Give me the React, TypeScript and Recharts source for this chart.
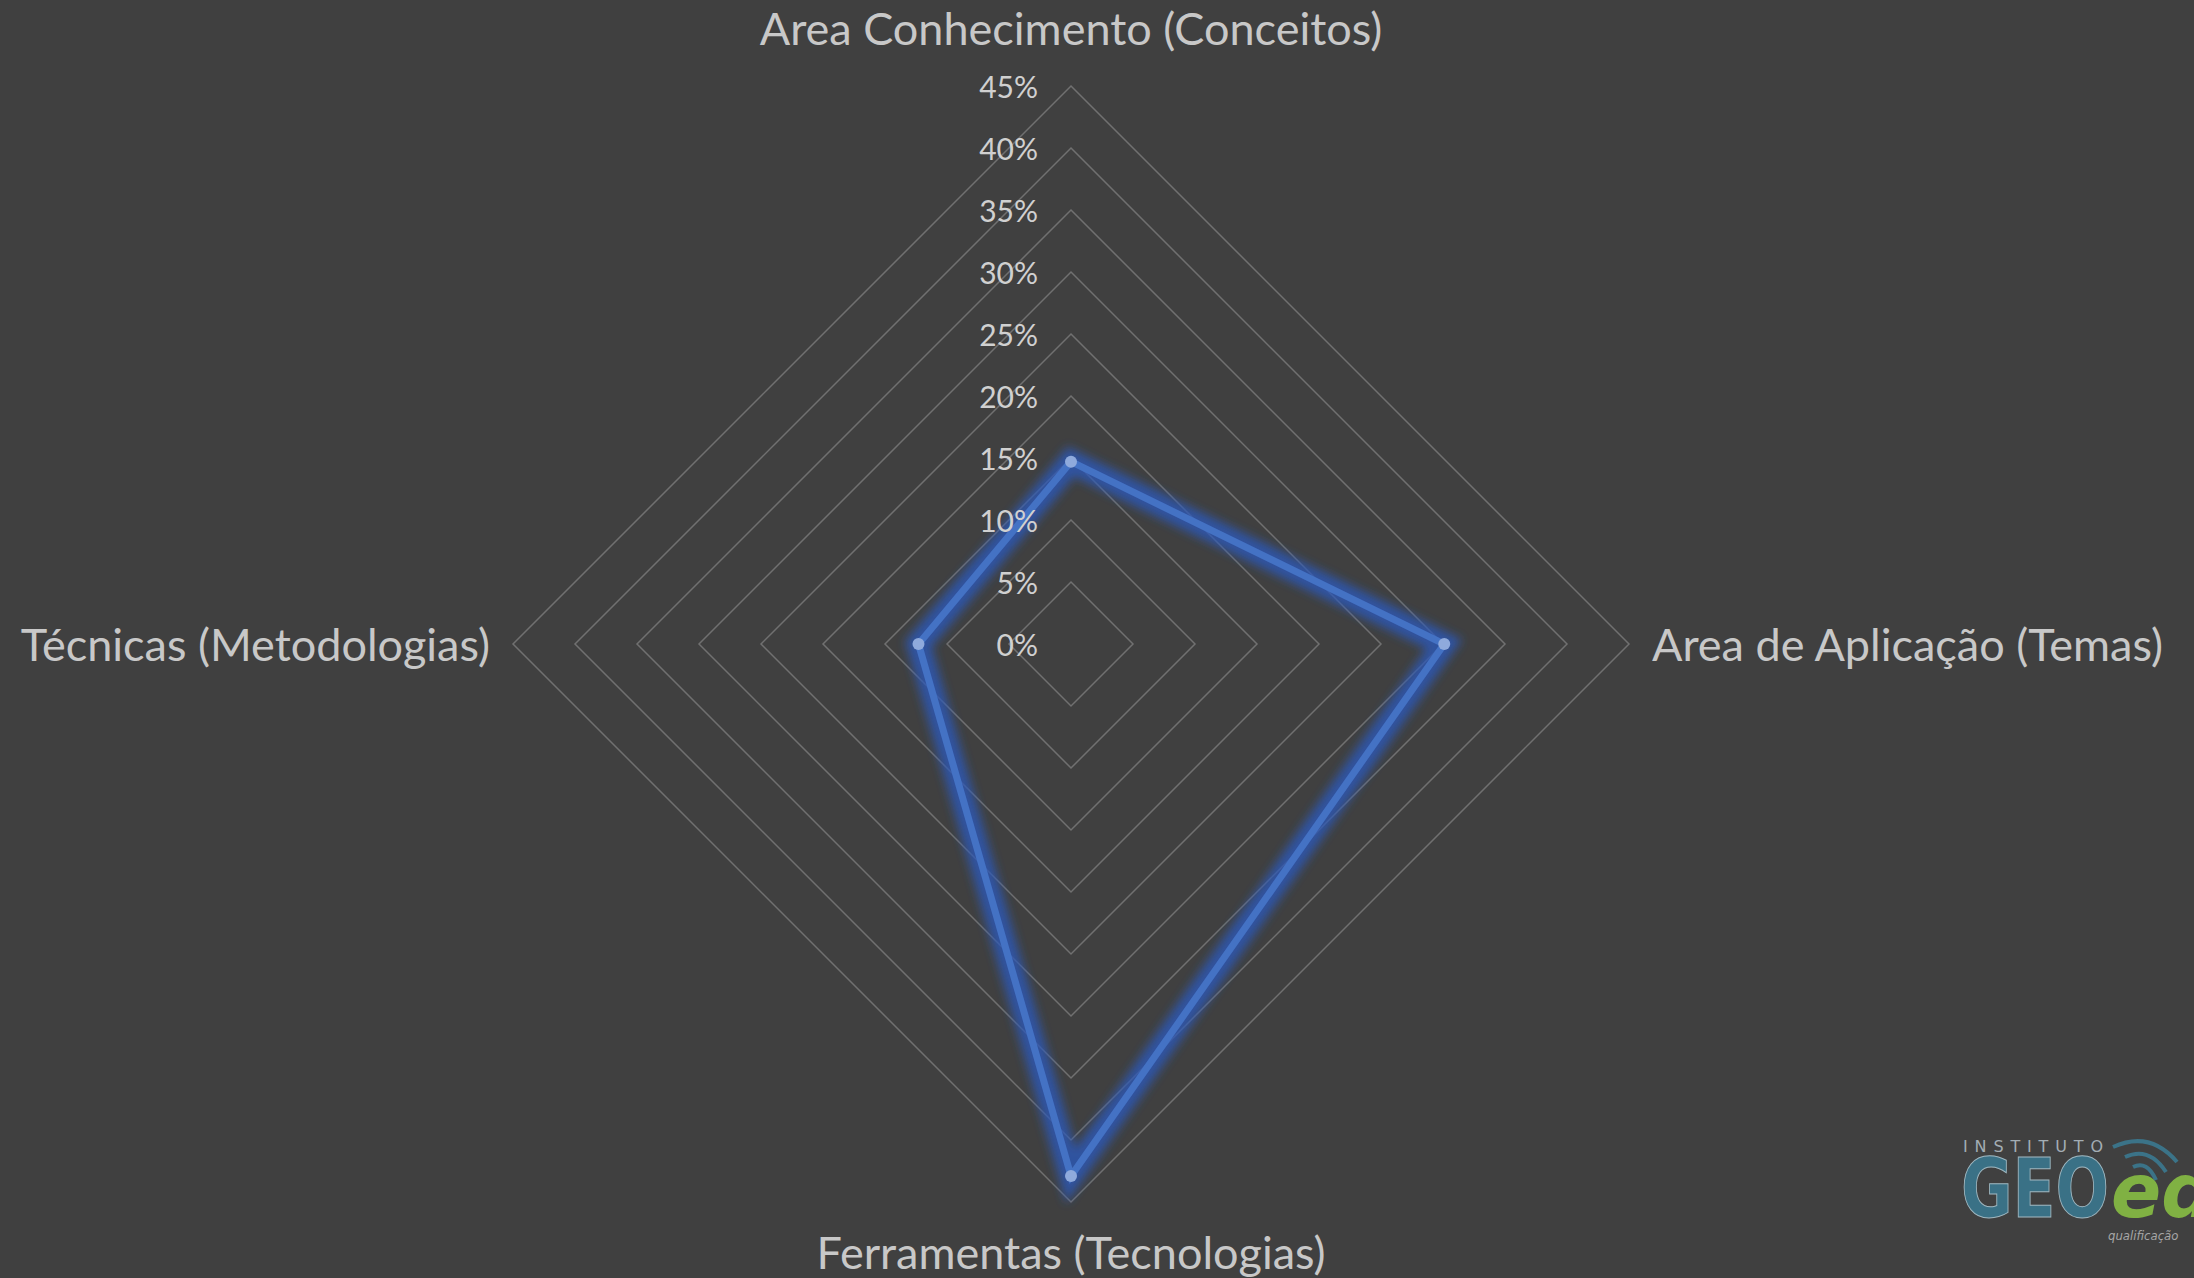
import { PolarAngleAxis, PolarGrid, PolarRadiusAxis, Radar, RadarChart } from "recharts";

const categories = [
  "Area Conhecimento (Conceitos)",
  "Area de Aplicação (Temas)",
  "Ferramentas (Tecnologias)",
  "Técnicas (Metodologias)",
];
const shares = [14.7, 30.1, 42.9, 12.3];
const radiusTicks = [0, 5, 10, 15, 20, 25, 30, 35, 40, 45];

const data = categories.map((category, i) => ({ category, share: shares[i] }));

const W = 2194;
const H = 1278;
const CX = 1071;
const CY = 644;
const R = 558;
const FONT = "Lato, 'Open Sans', sans-serif";

function AngleTick(props: any) {
  const { x, y, payload } = props;
  let tx = x;
  let ty = y;
  let anchor: "start" | "middle" | "end" = "middle";
  if (Math.abs(x - CX) < 2) {
    ty = y < CY ? y - 50 : y + 42;
  } else if (x > CX) {
    tx = x + 15;
    anchor = "start";
  } else {
    tx = x - 15;
    anchor = "end";
  }
  return (
    <text x={tx} y={ty} textAnchor={anchor} dominantBaseline="central"
      fill="#c8c8c8" fontSize={45} fontFamily={FONT}>
      {payload.value}
    </text>
  );
}

function RadiusTick(props: any) {
  const { x, y, payload } = props;
  return (
    <text x={x - 33} y={y} textAnchor="end" dominantBaseline="central"
      fill="#d0d0d0" fontSize={30} fontFamily={FONT}>
      {payload.value}%
    </text>
  );
}

function Logo() {
  return (
    <svg width={250} height={160} style={{ position: "absolute", left: 1944, top: 1118 }}>
      <text x={19} y={34} fontSize={16} fill="#a3adb4" textLength={140} lengthAdjust="spacing"
        fontFamily="'DejaVu Sans', sans-serif">
        INSTITUTO
      </text>
      <path d="M169 29 Q206 12 233 44" stroke="#3b7388" strokeWidth={4} fill="none" />
      <path d="M181 39 Q205 28 222 54" stroke="#3b7388" strokeWidth={4} fill="none" />
      <path d="M189 49 Q203 42 212 62" stroke="#3b7388" strokeWidth={4} fill="none" />
      <text x={17} y={99} fontSize={82} fontWeight={700} fill="#3a7186" stroke="#9fb7c0" strokeWidth={1}
        textLength={148} lengthAdjust="spacingAndGlyphs" fontFamily="'DejaVu Sans Condensed', 'DejaVu Sans', sans-serif">
        GEO
      </text>
      <text x={167} y={99} fontSize={74} fontStyle="italic" fontWeight={700} fill="#80b143"
        fontFamily="'DejaVu Sans', sans-serif">
        ed
      </text>
      <text x={164} y={122} fontSize={13} fontStyle="italic" fill="#a6a6a6" fontFamily="'DejaVu Sans Condensed', sans-serif">
        qualificação
      </text>
    </svg>
  );
}

export default function App() {
  return (
    <div style={{ position: "absolute", left: 0, top: 0, width: W, height: H, background: "#404040", overflow: "hidden" }}>
      <RadarChart width={W} height={H} data={data} cx={CX} cy={CY} outerRadius={R}
        margin={{ top: 0, right: 0, bottom: 0, left: 0 }}>
        <defs>
          <filter id="glow" x="-30%" y="-30%" width="160%" height="160%">
            <feGaussianBlur stdDeviation="5" />
          </filter>
        </defs>
        <PolarGrid gridType="polygon" radialLines={false} stroke="#707070" strokeWidth={1.5} />
        <PolarAngleAxis dataKey="category" tick={AngleTick} tickLine={false} axisLine={false} />
        <PolarRadiusAxis angle={90} domain={[0, 45]} ticks={radiusTicks as any} tickCount={10}
          tick={RadiusTick} axisLine={false} tickLine={false} />
        <Radar dataKey="share" stroke="#2b58b8" strokeWidth={24} strokeOpacity={0.8} fill="none"
          fillOpacity={0} dot={false} isAnimationActive={false} style={{ filter: "url(#glow)" }} />
        <Radar dataKey="share" stroke="#4472c4" strokeWidth={7} fill="none" fillOpacity={0}
          dot={{ r: 6, fill: "#8faadc", stroke: "none", fillOpacity: 1 }} isAnimationActive={false} />
      </RadarChart>
      <Logo />
    </div>
  );
}
